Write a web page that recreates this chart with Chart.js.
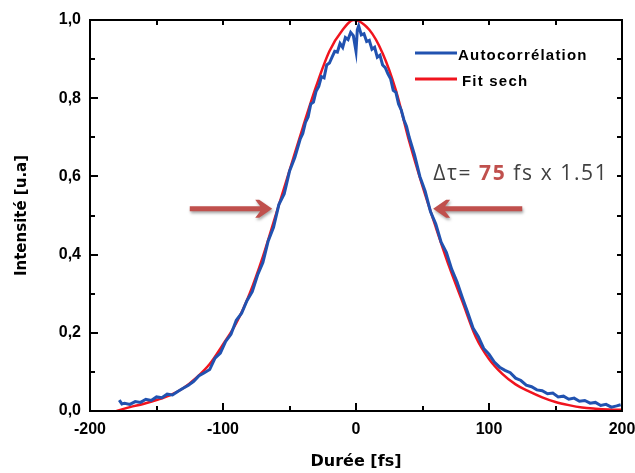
<!DOCTYPE html>
<html lang="fr">
<head>
  <meta charset="UTF-8" />
  <title>Autocorrélation</title>
  <script src="https://cdn.jsdelivr.net/npm/chart.js"></script>
  <style>
    html, body { margin: 0; padding: 0; background: #fff; }
    #wrap { width: 635px; height: 473px; }
  </style>
</head>
<body>
  <div id="wrap"><canvas id="acChart" width="635" height="473"></canvas></div>
  <script>
    // mesure (autocorrélation)
    const measTimes = [
      -178, -176, -174, -170, -166, -162, -158, -154, -150, -146, -142, -138, -134, -130, -126, -122,
      -118, -114, -110, -106, -102, -98, -94, -90, -86, -82, -78, -74, -70, -66, -62, -58,
      -54, -50, -46, -42,
      -40, -38, -36, -34, -32, -30, -28, -26, -24, -22, -20, -18, -16, -14, -12, -10,
      -8, -6, -4, -2, 0, 1, 2, 4, 6, 8, 10, 12, 14, 16, 18, 20,
      22, 24, 26, 28, 30, 32, 34, 36, 38, 40,
      44, 48, 52, 56, 60, 64, 68, 72, 76, 80, 84, 88, 92, 96, 100, 104,
      108, 112, 116, 120, 124, 128, 132, 136, 140, 144, 148, 152, 156, 160, 164, 168,
      172, 176, 180, 184, 188, 192, 196, 199
    ];
    const measValues = [
      0.028, 0.018, 0.020, 0.017, 0.024, 0.022, 0.030, 0.027, 0.036, 0.034, 0.043, 0.041, 0.050, 0.058, 0.066, 0.076,
      0.090, 0.098, 0.106, 0.135, 0.148, 0.178, 0.196, 0.232, 0.250, 0.282, 0.305, 0.348, 0.380, 0.435, 0.470, 0.528,
      0.555, 0.613, 0.648, 0.695,
      0.710, 0.738, 0.752, 0.785, 0.790, 0.818, 0.830, 0.855, 0.852, 0.885, 0.890, 0.905, 0.920, 0.918, 0.940, 0.930,
      0.955, 0.950, 0.968, 0.960, 0.920, 0.975, 0.985, 0.962, 0.965, 0.945, 0.948, 0.925, 0.930, 0.905, 0.910, 0.885,
      0.878, 0.862, 0.850, 0.820, 0.815, 0.785, 0.770, 0.745, 0.728, 0.700,
      0.655, 0.600, 0.562, 0.510, 0.478, 0.432, 0.405, 0.362, 0.330, 0.290, 0.252, 0.212, 0.190, 0.160, 0.145, 0.125,
      0.112, 0.104, 0.098, 0.084, 0.078, 0.066, 0.062, 0.054, 0.052, 0.044, 0.046, 0.036, 0.038, 0.030, 0.033, 0.025,
      0.027, 0.020, 0.022, 0.014, 0.017, 0.010, 0.013, 0.016
    ];

    // ajustement sech²
    const fitTimes = [
      -180, -170, -160, -150, -140, -130, -120, -110, -100, -90, -80, -70, -60, -50, -40, -30, -20, -10, -2,
      10, 20, 30, 40, 50, 60, 70, 80, 90, 100, 110, 120, 130, 140, 150, 160, 170, 180, 190, 200
    ];
    const fitValues = [
      0.000, 0.010, 0.018, 0.028, 0.040, 0.058, 0.085, 0.120, 0.170, 0.225, 0.300, 0.395, 0.505, 0.615, 0.725, 0.830, 0.920, 0.975, 1.000,
      0.975, 0.915, 0.820, 0.690, 0.575, 0.470, 0.370, 0.280, 0.190, 0.133, 0.095, 0.068, 0.050, 0.035, 0.023, 0.015, 0.009, 0.006, 0.004, 0.003
    ];

    const xMajorTicks = [-200, -100, 0, 100, 200];
    const xMinorTicks = [-150, -50, 50, 150];
    const yMajorTicks = [0, 0.2, 0.4, 0.6, 0.8, 1.0];
    const yMinorTicks = [0.1, 0.3, 0.5, 0.7, 0.9];

    const seriesLabels = ['Autocorrélation', 'Fit sech'];
    const seriesColors = ['#2152b0', '#f0141e'];

    // flèches de la largeur à mi-hauteur (en unités des données)
    const arrowLevel = 0.517;
    const leftArrow = [-125, -63];
    const rightArrow = [125, 58];
    const widthNote = ['Δτ= ', '75', ' fs x 1.51'];
    const notePos = [58, 0.59];

    const axisBoxPlugin = {
      id: 'axisBox',
      afterDatasetsDraw(chart) {
        const { ctx, chartArea: a, scales: { x, y } } = chart;
        ctx.save();
        ctx.strokeStyle = '#000';
        ctx.lineWidth = 2;
        ctx.strokeRect(a.left, a.top, a.right - a.left, a.bottom - a.top);
        ctx.beginPath();
        xMajorTicks.concat(xMinorTicks).forEach(v => {
          const px = Math.round(x.getPixelForValue(v));
          const len = xMajorTicks.includes(v) ? 8 : 5;
          ctx.moveTo(px, a.bottom); ctx.lineTo(px, a.bottom - len);
          ctx.moveTo(px, a.top); ctx.lineTo(px, a.top + 5);
        });
        yMajorTicks.concat(yMinorTicks).forEach(v => {
          const py = Math.round(y.getPixelForValue(v));
          const len = yMajorTicks.includes(v) ? 8 : 5;
          ctx.moveTo(a.left, py); ctx.lineTo(a.left + len, py);
          ctx.moveTo(a.right, py); ctx.lineTo(a.right - 5, py);
        });
        ctx.stroke();
        ctx.restore();
      },
      afterDraw(chart) {
        const { ctx, chartArea: a, scales: { x, y } } = chart;
        ctx.save();
        // titres des axes
        ctx.fillStyle = '#000';
        ctx.font = 'bold 16px "DejaVu Sans"';
        ctx.textAlign = 'center';
        ctx.textBaseline = 'middle';
        ctx.fillText('Durée [fs]', (a.left + a.right) / 2, 462);
        ctx.save();
        ctx.translate(22, (a.top + a.bottom) / 2);
        ctx.rotate(-Math.PI / 2);
        ctx.font = 'bold 15px "DejaVu Sans"';
        ctx.fillText('Intensité [u.a]', 0, 0);
        ctx.restore();

        // légende
        ctx.lineWidth = 3;
        ctx.font = 'bold 15px "Liberation Sans"';
        ctx.letterSpacing = '1.2px';
        ctx.textAlign = 'left';
        ctx.textBaseline = 'alphabetic';
        seriesLabels.forEach((lab, i) => {
          const ly = 53 + i * 26;
          ctx.strokeStyle = seriesColors[i];
          ctx.beginPath(); ctx.moveTo(415, ly); ctx.lineTo(457, ly); ctx.stroke();
          ctx.fillStyle = '#000';
          ctx.fillText(lab, i === 0 ? 458 : 462, ly + 7);
        });

        // flèches
        const ay = y.getPixelForValue(arrowLevel);
        const drawArrow = (from, to) => {
          const x0 = x.getPixelForValue(from), x1 = x.getPixelForValue(to);
          const dir = Math.sign(x1 - x0);
          ctx.save();
          ctx.shadowColor = 'rgba(0,0,0,0.35)';
          ctx.shadowBlur = 3;
          ctx.shadowOffsetX = 1;
          ctx.shadowOffsetY = 2;
          ctx.fillStyle = '#c0504d';
          ctx.beginPath();
          ctx.moveTo(x0, ay - 2.5);
          ctx.lineTo(x1 - dir * 12, ay - 2.5);
          ctx.lineTo(x1 - dir * 17, ay - 9);
          ctx.lineTo(x1 - dir * 13, ay - 9);
          ctx.lineTo(x1, ay);
          ctx.lineTo(x1 - dir * 13, ay + 9);
          ctx.lineTo(x1 - dir * 17, ay + 9);
          ctx.lineTo(x1 - dir * 12, ay + 2.5);
          ctx.lineTo(x0, ay + 2.5);
          ctx.closePath();
          ctx.fill();
          ctx.restore();
        };
        drawArrow(leftArrow[0], leftArrow[1]);
        drawArrow(rightArrow[0], rightArrow[1]);

        // annotation
        let tx = x.getPixelForValue(notePos[0]);
        const ty = y.getPixelForValue(notePos[1]);
        const fonts = ['21px "Open Sans"', 'bold 21px "Open Sans"', '21px "Open Sans"'];
        const colors = ['#404040', '#c0504d', '#404040'];
        ctx.letterSpacing = '1.6px';
        widthNote.forEach((t, i) => {
          ctx.font = fonts[i];
          ctx.fillStyle = colors[i];
          ctx.fillText(t, tx, ty);
          tx += ctx.measureText(t).width;
        });
        ctx.letterSpacing = '0px';
        ctx.restore();
      }
    };

    const ctx = document.getElementById('acChart').getContext('2d');
    new Chart(ctx, {
      type: 'line',
      data: {
        datasets: [
          {
            label: seriesLabels[0],
            data: measTimes.map((t, i) => ({ x: t, y: measValues[i] })),
            borderColor: seriesColors[0],
            borderWidth: 3,
            pointRadius: 0,
            tension: 0,
            fill: false
          },
          {
            label: seriesLabels[1],
            data: fitTimes.map((t, i) => ({ x: t, y: fitValues[i] })),
            borderColor: seriesColors[1],
            borderWidth: 2.5,
            pointRadius: 0,
            cubicInterpolationMode: 'monotone',
            fill: false
          }
        ]
      },
      options: {
        responsive: false,
        animation: false,
        layout: { padding: { top: 20, right: 13, left: 0, bottom: 0 } },
        plugins: { legend: { display: false }, tooltip: { enabled: false } },
        scales: {
          x: {
            type: 'linear',
            min: -200,
            max: 200,
            grid: { display: false, drawTicks: false },
            border: { display: false },
            ticks: {
              stepSize: 100,
              padding: 9,
              color: '#000',
              maxRotation: 0,
              font: { family: '"Liberation Sans"', size: 16, weight: 'bold' }
            },
            afterFit(s) { s.height = 62; s.paddingLeft = 0; s.paddingRight = 0; }
          },
          y: {
            min: 0,
            max: 1,
            grid: { display: false, drawTicks: false },
            border: { display: false },
            ticks: {
              stepSize: 0.2,
              padding: 9,
              color: '#000',
              font: { family: '"Liberation Sans"', size: 16, weight: 'bold' },
              callback: v => v.toFixed(1).replace('.', ',')
            },
            afterFit(s) { s.width = 90; s.paddingTop = 0; s.paddingBottom = 0; }
          }
        }
      },
      plugins: [axisBoxPlugin]
    });
  </script>
</body>
</html>
